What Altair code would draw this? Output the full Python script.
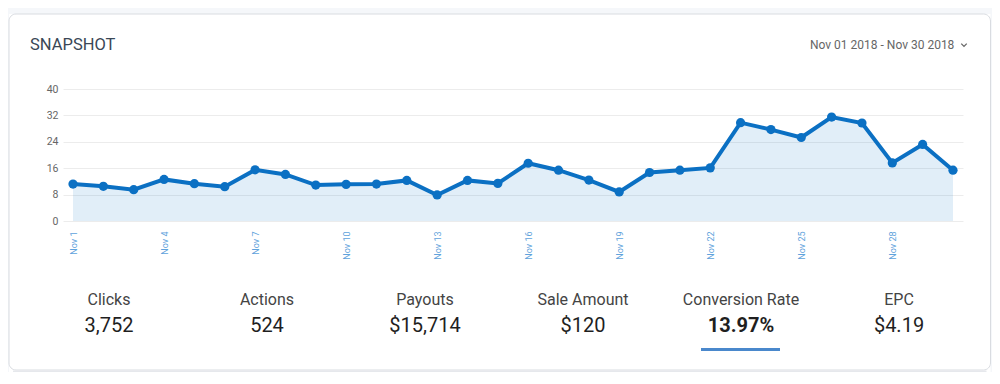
import altair as alt
import pandas as pd

# ---- data ----
days = [f"Nov {d}" for d in range(1, 31)]
values = [11.2, 10.5, 9.5, 12.6, 11.3, 10.4, 15.5, 14.1, 10.9, 11.1,
          11.2, 12.3, 7.9, 12.3, 11.4, 17.5, 15.4, 12.4, 8.8, 14.7,
          15.4, 16.1, 29.8, 27.7, 25.3, 31.5, 29.7, 17.6, 23.2, 15.4]
x_tick_labels = ["Nov 1", "Nov 4", "Nov 7", "Nov 10", "Nov 13",
                 "Nov 16", "Nov 19", "Nov 22", "Nov 25", "Nov 28"]
y_ticks = [0, 8, 16, 24, 32, 40]
stat_labels = ["Clicks", "Actions", "Payouts", "Sale Amount", "Conversion Rate", "EPC"]
stat_values = ["3,752", "524", "$15,714", "$120", "13.97%", "$4.19"]
title_text = "SNAPSHOT"
date_range_text = "Nov 01 2018 - Nov 30 2018"

df = pd.DataFrame({"day": days, "value": values})
one = pd.DataFrame({"k": [0]})

FONT = "Roboto"
LINE = "#0b70c3"
OUTER = "#f5f7fa"

W, H = 900, 132
PAD_L, PAD_T = 55, 81
TOTAL_W, TOTAL_H = 984, 364
CARD_R = TOTAL_W - PAD_L - 1.5

x_enc = alt.X("day:O", sort=days,
              scale=alt.Scale(type="point", padding=0.33),
              axis=alt.Axis(values=x_tick_labels, labelAngle=270, labelColor="#5fa3dc",
                            labelFontSize=9, labelFont=FONT, labelPadding=10,
                            domain=False, ticks=False, grid=False, title=None,
                            labelOverlap=False))
y_enc = alt.Y("value:Q", scale=alt.Scale(domain=[0, 40], nice=False),
              axis=alt.Axis(values=y_ticks, labelColor="#666666", labelFontSize=10.5,
                            labelFont=FONT, labelPadding=5, domain=False, ticks=False,
                            gridColor="#ececec", gridWidth=1, title=None))

# outer gray strips around the card (background itself is white)
def strip(x1, x2, y1, y2):
    return alt.Chart(one).mark_rect(fill=OUTER).encode(
        x=alt.value(x1), x2=alt.value(x2), y=alt.value(y1), y2=alt.value(y2))

strips = [strip(-PAD_L, TOTAL_W - PAD_L, -PAD_T, -75),       # top
          strip(-PAD_L, -54, -PAD_T, TOTAL_H - PAD_T),        # left
          strip(CARD_R, TOTAL_W - PAD_L, -PAD_T, TOTAL_H - PAD_T)]  # right
card = alt.Chart(one).mark_rect(fill="transparent", stroke="#d9dce1", strokeWidth=1,
                                cornerRadius=7).encode(
    x=alt.value(-54), x2=alt.value(CARD_R), y=alt.value(-75), y2=alt.value(281))
shadow = alt.Chart(one).mark_rule(color="#e6e8ec", strokeWidth=2).encode(
    x=alt.value(-50), x2=alt.value(CARD_R - 4), y=alt.value(282.5))

base = alt.Chart(df)
area = base.mark_area(color=LINE, opacity=0.12).encode(x=x_enc, y=y_enc)
line = base.mark_line(color=LINE, strokeWidth=4).encode(x=x_enc, y=y_enc)
pts = base.mark_point(color=LINE, filled=True, opacity=1, size=85).encode(x=x_enc, y=y_enc)

title = alt.Chart(one).mark_text(text=title_text, font=FONT, fontSize=16.5, color="#3a4756",
                                 align="left", baseline="alphabetic").encode(
    x=alt.value(-33), y=alt.value(-39))
date_t = alt.Chart(one).mark_text(text=date_range_text, font=FONT, fontSize=12, color="#666666",
                                  align="left", baseline="alphabetic").encode(
    x=alt.value(747), y=alt.value(-40))
chev = alt.Chart(one).mark_point(shape="M-1,-0.5L0,0.5L1,-0.5", filled=False, stroke="#666666",
                                 strokeWidth=1.3, size=30, opacity=1).encode(
    x=alt.value(901), y=alt.value(-44))

layers = [area, line, pts] + strips + [card, shadow, title, date_t, chev]

c0, step = 109 - 63, 158
for i, (lab, val) in enumerate(zip(stat_labels, stat_values)):
    cx = c0 + step * i
    layers.append(alt.Chart(one).mark_text(text=lab, font=FONT, fontSize=16, color="#444444",
                                           align="center", baseline="alphabetic").encode(
        x=alt.value(cx), y=alt.value(216)))
    bold = (lab == "Conversion Rate")
    layers.append(alt.Chart(one).mark_text(text=val, font=FONT, fontSize=20, color="#1f1f1f",
                                           fontWeight="bold" if bold else "normal",
                                           align="center", baseline="alphabetic").encode(
        x=alt.value(cx), y=alt.value(242.5)))

underline = alt.Chart(one).mark_rule(color="#4a88cc", strokeWidth=3).encode(
    x=alt.value(638), x2=alt.value(717), y=alt.value(260.5))
layers.append(underline)

chart = alt.layer(*layers).properties(
    width=W, height=H,
    autosize=alt.AutoSizeParams(type="none"),
    padding={"left": PAD_L, "top": PAD_T, "right": TOTAL_W - PAD_L - W,
             "bottom": TOTAL_H - PAD_T - H},
).configure(background="white").configure_view(stroke=None)

chart.save("out.html", embed_options={"renderer": "svg", "actions": False})
